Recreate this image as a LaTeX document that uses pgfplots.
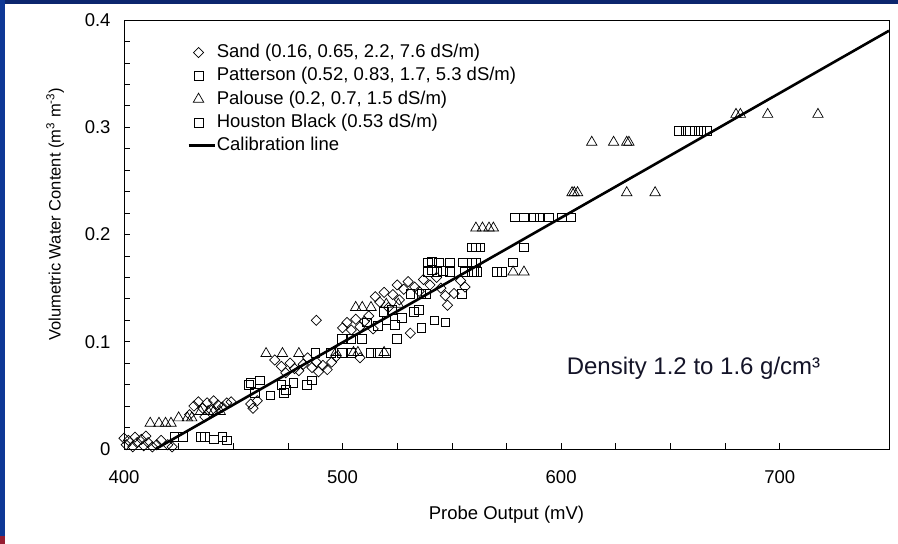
\documentclass[border=0pt]{standalone}
\usepackage{pgfplots}
\pgfplotsset{compat=1.18}
\usepackage{fontspec}
\setmainfont{Liberation Sans}
\definecolor{navytop}{RGB}{12,38,110}
\definecolor{blueleft}{RGB}{14,56,150}
\definecolor{redcorner}{RGB}{150,30,50}
\definecolor{denscol}{RGB}{20,20,40}

\begin{document}
\begin{tikzpicture}[x=1pt,y=1pt]
\useasboundingbox (0,0) rectangle (898,544);
\fill[white] (0,0) rectangle (898,544);
\fill[navytop] (0,540) rectangle (898,544);
\fill[blueleft] (0,0) rectangle (4.5,544);
\fill[redcorner] (0,0) rectangle (4.5,8);
\begin{axis}[
  at={(124pt,95pt)}, anchor=south west,
  scale only axis, width=765pt, height=429pt,
  xmin=400, xmax=750, ymin=0, ymax=0.4,
  xtick={400,500,600,700}, minor x tick num=3,
  ytick={0,0.1,0.2,0.3,0.4}, minor y tick num=4,
  scaled y ticks=false,
  tick pos=left, tick align=inside,
  major tick length=6pt, minor tick length=6pt,
  every tick/.style={black, line width=0.7pt},
  axis line style={line width=0.8pt},
  /pgf/number format/assume math mode=true,
  tick label style={font=\fontsize{18.5}{20}\selectfont},
  yticklabel style={/pgf/number format/fixed, /pgf/number format/precision=1, xshift=-10pt},
  xticklabel style={yshift=-18.5pt},
  xlabel={Probe Output (mV)},
  ylabel={Volumetric Water Content (m\textsuperscript{3} m\textsuperscript{-3})},
  xlabel style={font=\fontsize{18.5}{20}\selectfont, at={(axis description cs:0.5,-0.153)}, anchor=center},
  ylabel style={font=\fontsize{16.5}{18}\selectfont, at={(axis description cs:-0.09,0.547)}, anchor=center},
  legend style={at={(axis description cs:0.0824,0.947)}, anchor=north west, draw=none, fill=none,
    font=\fontsize{18.5}{20}\selectfont, inner sep=0pt, row sep=4pt,
    nodes={inner sep=1pt, text height=13.5pt, text depth=3.8pt}},
  legend cell align=left,
  legend image code/.code={\draw[mark repeat=2,mark phase=2,#1] plot coordinates {(0pt,0pt)(10pt,0pt)(26pt,0pt)};},
  clip=true,
]
% Sand
\addplot[only marks, mark=square, mark size=3.6pt, mark options={rotate=45, black, line width=0.7pt, fill=none}] coordinates {
(400,0.010)(401,0.004)(402,0.008)(404,0.002)(405,0.011)(406,0.006)(408,0.009)(409,0.003)
(410,0.012)(411,0.006)(413,0.002)(415,0.004)(417,0.008)(420,0.004)(422,0.002)
(430,0.032)(432,0.040)(434,0.044)(436,0.038)(437,0.030)(438,0.043)(440,0.036)(441,0.045)
(443,0.041)(445,0.039)(447,0.043)(449,0.044)(458,0.042)(459,0.038)(461,0.045)
(469,0.083)(472,0.077)(474,0.071)(476,0.080)(478,0.075)(480,0.073)(482,0.079)(484,0.085)
(486,0.076)(488,0.081)(489,0.072)(491,0.078)(493,0.074)(495,0.081)(488,0.120)(497,0.086)
(500,0.113)(502,0.118)(504,0.111)(506,0.121)(508,0.114)(510,0.119)(508,0.085)(512,0.124)
(514,0.112)(515,0.142)(517,0.137)(519,0.146)(521,0.132)(523,0.144)(525,0.153)(526,0.139)
(528,0.149)(530,0.156)(531,0.108)(533,0.151)(535,0.147)(537,0.158)(540,0.153)(543,0.160)
(545,0.150)(547,0.143)(551,0.145)(554,0.157)(556,0.151)(548,0.134)
};
\addlegendentry{Sand (0.16, 0.65, 2.2, 7.6 dS/m)}
% Patterson
\addplot[only marks, mark=square, mark size=4.4pt, mark options={black, line width=0.7pt, fill=none}] coordinates {
(458,0.062)(462,0.064)(472,0.060)(477.5,0.062)(483.5,0.060)(486,0.064)(460,0.052)(467,0.050)
(473,0.052)(474,0.055)(457,0.060)(487.5,0.090)(494.5,0.090)(499.5,0.090)(513,0.090)(504,0.090)
(516,0.090)(520,0.090)(519,0.128)(522.5,0.130)(532.6,0.128)(535,0.130)(542,0.120)(547,0.118)
(536,0.113)(525,0.103)(531,0.145)(536,0.145)(538,0.145)(554.6,0.145)(539,0.165)(541,0.167)
(543,0.165)(546,0.166)(549,0.165)(556,0.165)(560,0.165)
(511,0.118)(516,0.115)(520,0.120)(524,0.116)(527,0.122)
};
\addlegendentry{Patterson (0.52, 0.83, 1.7, 5.3 dS/m)}
% Palouse
\addplot[only marks, mark=triangle, mark size=6pt, mark options={black, line width=0.7pt, fill=none}] coordinates {
(412,0.024)(416,0.024)(419,0.024)(421.5,0.024)(425,0.029)(429,0.029)(431,0.029)
(435,0.035)(438.5,0.035)(441,0.035)(444,0.035)(465,0.089)(472.5,0.089)(480,0.089)
(497,0.090)(505,0.090)(507,0.090)(519,0.090)(506,0.132)(509,0.132)(513,0.132)(520,0.135)
(525.5,0.135)(561,0.206)(564,0.206)(567,0.206)(569,0.206)(578,0.165)(583,0.165)
(605,0.239)(606,0.239)(607.5,0.239)(630,0.239)(643,0.239)(614,0.286)(624,0.286)(630,0.286)
(631,0.286)(680,0.312)(682,0.312)(694.5,0.312)(717.5,0.312)
};
\addlegendentry{Palouse (0.2, 0.7, 1.5 dS/m)}
% Houston Black
\addplot[only marks, mark=square, mark size=4.4pt, mark options={black, line width=0.7pt, fill=none}] coordinates {
(423,0.011)(427,0.011)(435,0.011)(437,0.011)(441,0.009)(445,0.011)(447,0.008)
(499.5,0.103)(504,0.103)(509,0.103)(539,0.174)(541,0.175)(544,0.174)(549,0.174)(555,0.174)
(559,0.174)(561,0.174)(578,0.174)(559,0.165)(561.5,0.165)(570.6,0.165)(573,0.165)
(559,0.188)(561,0.188)(563,0.188)(583,0.188)(579,0.216)(583,0.216)(587.6,0.216)(590,0.216)
(594.5,0.216)(600.5,0.216)(604.6,0.216)(654,0.297)(657,0.297)(659,0.297)(661,0.297)
(664,0.297)(666.5,0.297)
};
\addlegendentry{Houston Black (0.53 dS/m)}
% Calibration
\addplot[black, line width=2.6pt, no marks] coordinates {(414.5,0) (750,0.39)};
\addlegendentry{Calibration line}
\node[anchor=west, font=\fontsize{24}{26}\selectfont, text=denscol, inner sep=0pt] at (axis cs:602.5,0.0755) {Density 1.2 to 1.6 g/cm³};
\end{axis}
\end{tikzpicture}
\end{document}
